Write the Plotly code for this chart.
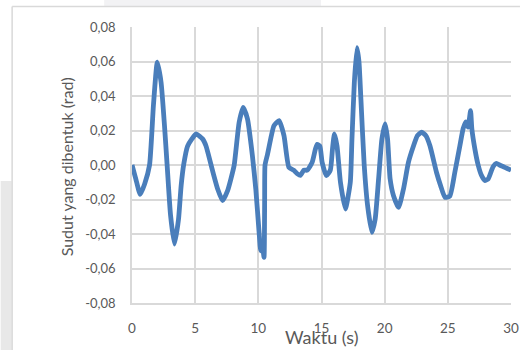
import plotly.graph_objects as go

# Data
waktu = [0, 0.3, 0.65, 1.0, 1.39, 1.7, 2.0, 2.3, 2.57, 2.78, 3.05, 3.36, 3.68, 3.89, 4.1,
         4.4, 4.73, 5.07, 5.6, 5.86, 6.4, 6.78, 7.17, 7.56, 7.83, 8.09, 8.48, 8.8, 9.14,
         9.53, 9.8, 10.06, 10.19, 10.32, 10.45, 10.5, 10.53, 10.72, 11.03, 11.24, 11.64,
         12.03, 12.42, 12.8, 13.07, 13.34, 13.6, 13.87, 14.26, 14.52, 14.66, 14.87, 15.05,
         15.39, 15.7, 15.87, 16.02, 16.23, 16.5, 16.89, 17.28, 17.41, 17.6, 17.81, 17.97,
         18.12, 18.38, 18.65, 18.99, 19.25, 19.52, 19.78, 20.04, 20.23, 20.43, 20.7, 21.1,
         21.49, 21.88, 22.28, 22.59, 22.93, 23.26, 23.59, 24.1, 24.43, 24.77, 25.16, 25.56,
         25.95, 26.21, 26.42, 26.6, 26.8, 26.9, 27.14, 27.4, 27.66, 27.92, 28.2, 28.58,
         28.85, 29.1, 29.4, 29.7, 30.0]
sudut = [0.0, -0.008, -0.017, -0.011, 0.0, 0.035, 0.0596, 0.048, 0.023, 0.0, -0.029, -0.0458,
         -0.0316, -0.012, 0.0006, 0.011, 0.015, 0.018, 0.015, 0.011, -0.004, -0.0139, -0.0207,
         -0.015, -0.008, 0.0, 0.0247, 0.0334, 0.0267, 0.0054, -0.014, -0.039, -0.0497, -0.0468,
         -0.0535, -0.02, 0.0, 0.006, 0.017, 0.0228, 0.0257, 0.017, -0.0014, -0.003, -0.005,
         -0.006, -0.003, -0.003, 0.0015, 0.0093, 0.012, 0.011, 0.0015, -0.0062, -0.003, 0.0093,
         0.018, 0.011, -0.010, -0.0255, -0.010, 0.015, 0.048, 0.068, 0.0596, 0.038, 0.0,
         -0.0236, -0.039, -0.0313, -0.008, 0.015, 0.0238, 0.015, -0.008, -0.0178, -0.0246,
         -0.0139, 0.0015, 0.011, 0.017, 0.019, 0.017, 0.011, -0.0042, -0.012, -0.0187, -0.018,
         -0.004, 0.011, 0.021, 0.025, 0.022, 0.0315, 0.021, 0.0093, 0.0, -0.006, -0.009,
         -0.008, -0.001, 0.001, 0.0, -0.001, -0.002, -0.003]

x_ticks = [0, 5, 10, 15, 20, 25, 30]
y_ticks = [-0.08, -0.06, -0.04, -0.02, 0.0, 0.02, 0.04, 0.06, 0.08]
y_tick_text = ["-0,08", "-0,06", "-0,04", "-0,02", "0,00", "0,02", "0,04", "0,06", "0,08"]

FONT = "Lato, 'Open Sans', sans-serif"
GRAY = "#595959"
GRID = "#d9d9d9"

fig = go.Figure()
fig.add_trace(go.Scatter(
    x=waktu, y=sudut, mode="lines",
    line=dict(color="#4a7ebb", width=4.8, shape="spline", smoothing=0.5),
    showlegend=False, hoverinfo="skip"))

fig.update_layout(
    width=531, height=350,
    margin=dict(l=132, r=18, t=27, b=47),
    paper_bgcolor="white", plot_bgcolor="white",
    font=dict(family=FONT, color=GRAY, size=12),
    xaxis=dict(range=[0, 30], tickvals=x_ticks, showgrid=True, gridcolor=GRID, gridwidth=1.5,
               zeroline=False, showline=True, linecolor=GRID, linewidth=1.5,
               ticks="", ticklabelstandoff=12, tickfont=dict(size=13.5, color=GRAY, family=FONT),
               mirror=False),
    yaxis=dict(range=[-0.08, 0.08], tickvals=y_ticks, ticktext=y_tick_text, showgrid=True,
               gridcolor=GRID, gridwidth=1.5, zeroline=False, showline=True, linecolor=GRID,
               linewidth=1.5, ticks="", ticklabelstandoff=12,
               tickfont=dict(size=13, color=GRAY, family=FONT)),
)

# Axis titles
fig.add_annotation(text="Waktu (s)", xref="paper", yref="paper", x=0.5, y=(303 - 336.5) / 276,
                   showarrow=False, font=dict(size=18, color=GRAY, family=FONT),
                   xanchor="center", yanchor="middle")
fig.add_annotation(text="Sudut yang dibentuk (rad)", xref="paper", yref="paper",
                   x=(66 - 132) / 381, y=(303 - 167) / 276, textangle=-90,
                   showarrow=False, font=dict(size=16, color=GRAY, family=FONT),
                   xanchor="center", yanchor="middle")

def px2x(px):
    return (px - 132) / 381.0

def py2y(py):
    return (303 - py) / 276.0

# Background decorations (page around the chart)
fig.add_shape(type="rect", xref="paper", yref="paper", x0=px2x(0), x1=px2x(11), y0=py2y(181),
              y1=py2y(352), fillcolor="#e8e8e8", line=dict(width=0), layer="below")
fig.add_shape(type="rect", xref="paper", yref="paper", x0=px2x(104), x1=px2x(322), y0=py2y(-2),
              y1=py2y(6), fillcolor="#f2f2f4", line=dict(width=0), layer="below")
fig.add_shape(type="line", xref="paper", yref="paper", x0=px2x(11.5), x1=px2x(11.5),
              y0=py2y(6.5), y1=py2y(352), line=dict(color="#d9d9d9", width=1.5))
fig.add_shape(type="line", xref="paper", yref="paper", x0=px2x(11.5), x1=px2x(522),
              y0=py2y(6.5), y1=py2y(6.5), line=dict(color="#d9d9d9", width=1.5))

fig.write_html("out.html", config={"displayModeBar": False},
               post_script="document.body.style.margin='0';document.body.style.overflow='hidden';")
